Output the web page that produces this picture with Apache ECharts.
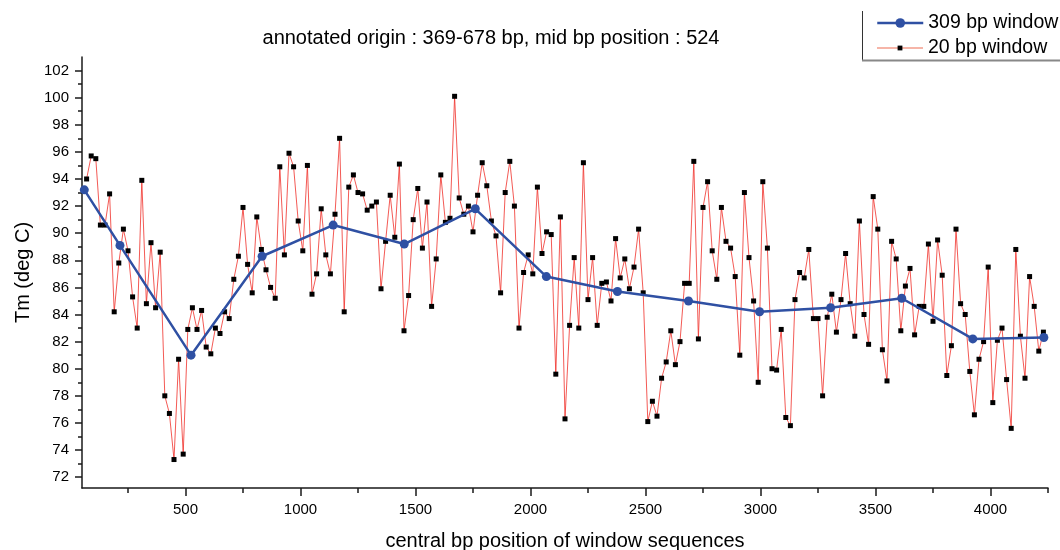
<!DOCTYPE html>
<html>
<head>
<meta charset="utf-8">
<script src="https://cdn.jsdelivr.net/npm/echarts@6/dist/echarts.min.js"></script>
<style>html,body{margin:0;padding:0;background:#fff}#c{width:1060px;height:550px}</style>
</head>
<body>
<div id="c"></div>
<script>
// central bp positions of the 20 bp windows
const positions20 = [
  70,90,110,130,150,170,190,210,230,250,
  270,290,310,330,350,370,390,410,430,450,
  470,490,510,530,550,570,590,610,630,650,
  670,690,710,730,750,770,790,810,830,850,
  870,890,910,930,950,970,990,1010,1030,1050,
  1070,1090,1110,1130,1150,1170,1190,1210,1230,1250,
  1270,1290,1310,1330,1350,1370,1390,1410,1430,1450,
  1470,1490,1510,1530,1550,1570,1590,1610,1630,1650,
  1670,1690,1710,1730,1750,1770,1790,1810,1830,1850,
  1870,1890,1910,1930,1950,1970,1990,2010,2030,2050,
  2070,2090,2110,2130,2150,2170,2190,2210,2230,2250,
  2270,2290,2310,2330,2350,2370,2390,2410,2430,2450,
  2470,2490,2510,2530,2550,2570,2590,2610,2630,2650,
  2670,2690,2710,2730,2750,2770,2790,2810,2830,2850,
  2870,2890,2910,2930,2950,2970,2990,3010,3030,3050,
  3070,3090,3110,3130,3150,3170,3190,3210,3230,3250,
  3270,3290,3310,3330,3350,3370,3390,3410,3430,3450,
  3470,3490,3510,3530,3550,3570,3590,3610,3630,3650,
  3670,3690,3710,3730,3750,3770,3790,3810,3830,3850,
  3870,3890,3910,3930,3950,3970,3990,4010,4030,4050,
  4070,4090,4110,4130,4150,4170,4190,4210,4230
];
// Tm of the 20 bp windows (deg C)
const tm20 = [
  94.0,95.7,95.5,90.6,90.6,92.9,84.2,87.8,90.3,88.7,
  85.3,83.0,93.9,84.8,89.3,84.5,88.6,78.0,76.7,73.3,
  80.7,73.7,82.9,84.5,82.9,84.3,81.6,81.1,83.0,82.6,
  84.2,83.7,86.6,88.3,91.9,87.7,85.6,91.2,88.8,87.3,
  86.0,85.2,94.9,88.4,95.9,94.9,90.9,88.7,95.0,85.5,
  87.0,91.8,88.4,87.0,91.4,97.0,84.2,93.4,94.3,93.0,
  92.9,91.7,92.0,92.3,85.9,89.4,92.8,89.7,95.1,82.8,
  85.4,91.0,93.3,88.9,92.3,84.6,88.1,94.3,90.8,91.1,
  100.1,92.6,91.4,92.0,90.1,92.8,95.2,93.5,90.9,89.8,
  85.6,93.0,95.3,92.0,83.0,87.1,88.4,87.0,93.4,88.5,
  90.1,89.9,79.6,91.2,76.3,83.2,88.2,83.0,95.2,85.1,
  88.2,83.2,86.3,86.4,85.0,89.6,86.7,88.1,85.9,87.5,
  90.3,85.6,76.1,77.6,76.5,79.3,80.5,82.8,80.3,82.0,
  86.3,86.3,95.3,82.2,91.9,93.8,88.7,86.6,91.9,89.4,
  88.9,86.8,81.0,93.0,88.2,85.0,79.0,93.8,88.9,80.0,
  79.9,82.9,76.4,75.8,85.1,87.1,86.7,88.8,83.7,83.7,
  78.0,83.8,85.5,82.7,85.1,88.5,84.8,82.4,90.9,84.0,
  81.8,92.7,90.3,81.4,79.1,89.4,88.1,82.8,86.1,87.4,
  82.5,84.6,84.6,89.2,83.5,89.5,86.9,79.5,81.7,90.3,
  84.8,84.0,79.8,76.6,80.7,82.0,87.5,77.5,82.1,83.0,
  79.2,75.6,88.8,82.4,79.3,86.8,84.6,81.3,82.7
];
// 309 bp windows
const positions309 = [60,215,524,833,1142,1451,1760,2069,2378,2687,2996,3305,3614,3923,4232];
const tm309 = [93.2,89.1,81.0,88.3,90.6,89.2,91.8,86.8,85.7,85.0,84.2,84.5,85.2,82.2,82.3];

// ticks
const xMajorTicks = [500,1000,1500,2000,2500,3000,3500,4000];
const xMinorTicks = [250,750,1250,1750,2250,2750,3250,3750,4250];
const yMajorTicks = [72,74,76,78,80,82,84,86,88,90,92,94,96,98,100,102];
const yMinorTicks = [73,75,77,79,81,83,85,87,89,91,93,95,97,99,101];

const titleText = 'annotated origin : 369-678 bp, mid bp position : 524';
const xName = 'central bp position of window sequences';
const yName = 'Tm (deg C)';
const name309 = '309 bp window';
const name20 = '20 bp window';

const FONT = '"Liberation Sans", Arial, Helvetica, sans-serif';
const AX = '#1a1a1a';
const BLUE = '#2f50a3';
const X_MIN = 50, X_MAX = 4250, Y_MIN = 71.2, Y_MAX = 103;
const plain = v => String(v);

const chart = echarts.init(document.getElementById('c'), null, {renderer: 'canvas'});
chart.setOption({
  animation: false,
  backgroundColor: '#fff',
  textStyle: {fontFamily: FONT, color: '#000'},
  title: {
    text: titleText, left: 491, top: 28, padding: 0, textAlign: 'center',
    textStyle: {fontSize: 20, fontWeight: 'normal', color: '#000', fontFamily: FONT}
  },
  legend: [
    {
      data: [name309], left: 876, top: 13, padding: 0, orient: 'vertical',
      itemWidth: 46, itemHeight: 12, selectedMode: false,
      textStyle: {fontSize: 19.5, color: '#000', fontFamily: FONT},
      lineStyle: {color: BLUE, width: 2.5}
    },
    {
      data: [name20], left: 876, top: 38, padding: 0, orient: 'vertical',
      itemWidth: 46, itemHeight: 6, selectedMode: false,
      textStyle: {fontSize: 19.5, color: '#000', fontFamily: FONT},
      lineStyle: {color: '#f6b5a8', width: 2}
    }
  ],
  grid: {left: 82, right: 12, top: 57, bottom: 62, containLabel: false, outerBoundsMode: 'none'},
  xAxis: [
    {
      type: 'value', min: X_MIN, max: X_MAX, position: 'bottom',
      axisLine: {show: true, onZero: false, lineStyle: {color: AX, width: 1.5}},
      axisTick: {show: true, customValues: xMajorTicks, length: 8, lineStyle: {color: AX, width: 1.5}},
      axisLabel: {show: true, customValues: xMajorTicks, formatter: plain, margin: 14, fontSize: 15, color: '#000', fontFamily: FONT},
      splitLine: {show: false},
      name: xName, nameLocation: 'middle', nameGap: 43,
      nameTextStyle: {fontSize: 20, color: '#000', fontFamily: FONT}
    },
    {
      type: 'value', min: X_MIN, max: X_MAX, position: 'bottom',
      axisLine: {show: false, onZero: false},
      axisTick: {show: true, customValues: xMinorTicks, length: 5, lineStyle: {color: AX, width: 1.5}},
      axisLabel: {show: false},
      splitLine: {show: false}
    }
  ],
  yAxis: [
    {
      type: 'value', min: Y_MIN, max: Y_MAX, position: 'left',
      axisLine: {show: true, onZero: false, lineStyle: {color: AX, width: 1.5}},
      axisTick: {show: true, customValues: yMajorTicks, length: 7, lineStyle: {color: AX, width: 1.5}},
      axisLabel: {show: true, customValues: yMajorTicks, formatter: plain, margin: 13, fontSize: 15, color: '#000', fontFamily: FONT},
      splitLine: {show: false},
      name: yName, nameLocation: 'middle', nameGap: 43, nameRotate: 90,
      nameTextStyle: {fontSize: 20, color: '#000', fontFamily: FONT}
    },
    {
      type: 'value', min: Y_MIN, max: Y_MAX, position: 'left',
      axisLine: {show: false, onZero: false},
      axisTick: {show: true, customValues: yMinorTicks, length: 4, lineStyle: {color: AX, width: 1.5}},
      axisLabel: {show: false},
      splitLine: {show: false}
    }
  ],
  series: [
    {
      name: name20, type: 'line', xAxisIndex: 0, yAxisIndex: 0,
      data: positions20.map((x, i) => [x, tm20[i]]),
      symbol: 'rect', symbolSize: 5, showSymbol: true, showAllSymbol: true,
      itemStyle: {color: '#000', borderWidth: 0},
      lineStyle: {color: '#f0302a', width: 0.8},
      z: 2, silent: true
    },
    {
      name: name309, type: 'line', xAxisIndex: 0, yAxisIndex: 0,
      data: positions309.map((x, i) => [x, tm309[i]]),
      symbol: 'circle', symbolSize: 9, showSymbol: true,
      itemStyle: {color: BLUE, borderWidth: 0},
      lineStyle: {color: BLUE, width: 2.5},
      z: 3, silent: true
    }
  ],
  graphic: [
    {type: 'line', shape: {x1: 862.5, y1: 11, x2: 862.5, y2: 60}, style: {stroke: '#333', lineWidth: 1}},
    {type: 'line', shape: {x1: 862, y1: 60.5, x2: 1060, y2: 60.5}, style: {stroke: '#888', lineWidth: 2}}
  ]
});
</script>
</body>
</html>
